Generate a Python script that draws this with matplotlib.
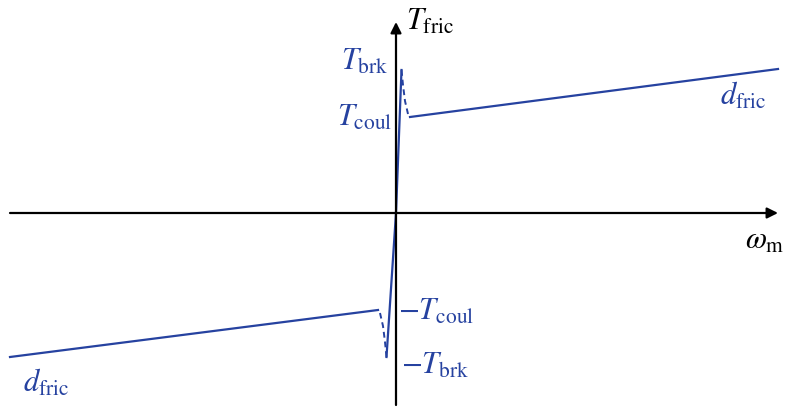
import matplotlib.pyplot as plt

plt.rcParams['mathtext.fontset'] = 'stix'
plt.rcParams['font.family'] = 'STIXGeneral'

# friction torque curve pieces (speed, torque), arbitrary units
stick_w = [-9.5, 0.0, 5.5]
stick_t = [-144, 0, 143]

strib_pos_w = [5.5, 7.0, 9.0, 12.0]
strib_pos_t = [143, 128, 112, 99]
strib_neg_w = [-9.5, -11.0, -13.0, -16.0]
strib_neg_t = [-144, -129, -113, -100]

visc_pos_w = [14, 382]
visc_pos_t = [96, 144]
visc_neg_w = [-18, -386]
visc_neg_t = [-97, -144]

blue = '#2642a0'

fig = plt.figure(figsize=(7.95, 4.07), dpi=100)
ax = fig.add_axes([0, 0, 1, 1])
ax.set_xlim(-396, 399)
ax.set_ylim(-194, 213)
ax.axis('off')

# axes with arrow heads
ax.annotate('', xy=(382, 0), xytext=(-386, 0),
            arrowprops=dict(arrowstyle='-|>', color='k', lw=1.6, mutation_scale=16,
                            shrinkA=0, shrinkB=0))
ax.annotate('', xy=(0, 191), xytext=(0, -192),
            arrowprops=dict(arrowstyle='-|>', color='k', lw=1.6, mutation_scale=16,
                            shrinkA=0, shrinkB=0))

ax.plot(stick_w, stick_t, color=blue, lw=1.6)
ax.plot(strib_pos_w, strib_pos_t, color=blue, lw=1.4, ls=(0, (3, 2)))
ax.plot(strib_neg_w, strib_neg_t, color=blue, lw=1.4, ls=(0, (3, 2)))
ax.plot(visc_pos_w, visc_pos_t, color=blue, lw=1.6)
ax.plot(visc_neg_w, visc_neg_t, color=blue, lw=1.6)

fs = 22
ax.text(10, 191, r'$T_{\mathrm{fric}}$', fontsize=fs, color='k', va='center', ha='left')
ax.text(-7, 151, r'$T_{\mathrm{brk}}$', fontsize=fs, color=blue, va='center', ha='right')
ax.text(-4, 95, r'$T_{\mathrm{coul}}$', fontsize=fs, color=blue, va='center', ha='right')
ax.text(2, -99, r'$-T_{\mathrm{coul}}$', fontsize=fs, color=blue, va='center', ha='left')
ax.text(5, -153, r'$-T_{\mathrm{brk}}$', fontsize=fs, color=blue, va='center', ha='left')
ax.text(370, 117, r'$d_{\mathrm{fric}}$', fontsize=fs, color=blue, va='center', ha='right')
ax.text(-373, -170, r'$d_{\mathrm{fric}}$', fontsize=fs, color=blue, va='center', ha='left')
ax.text(349, -29, r'$\omega_{\mathrm{m}}$', fontsize=fs, color='k', va='center', ha='left')

fig.savefig('out.png', dpi=100)
